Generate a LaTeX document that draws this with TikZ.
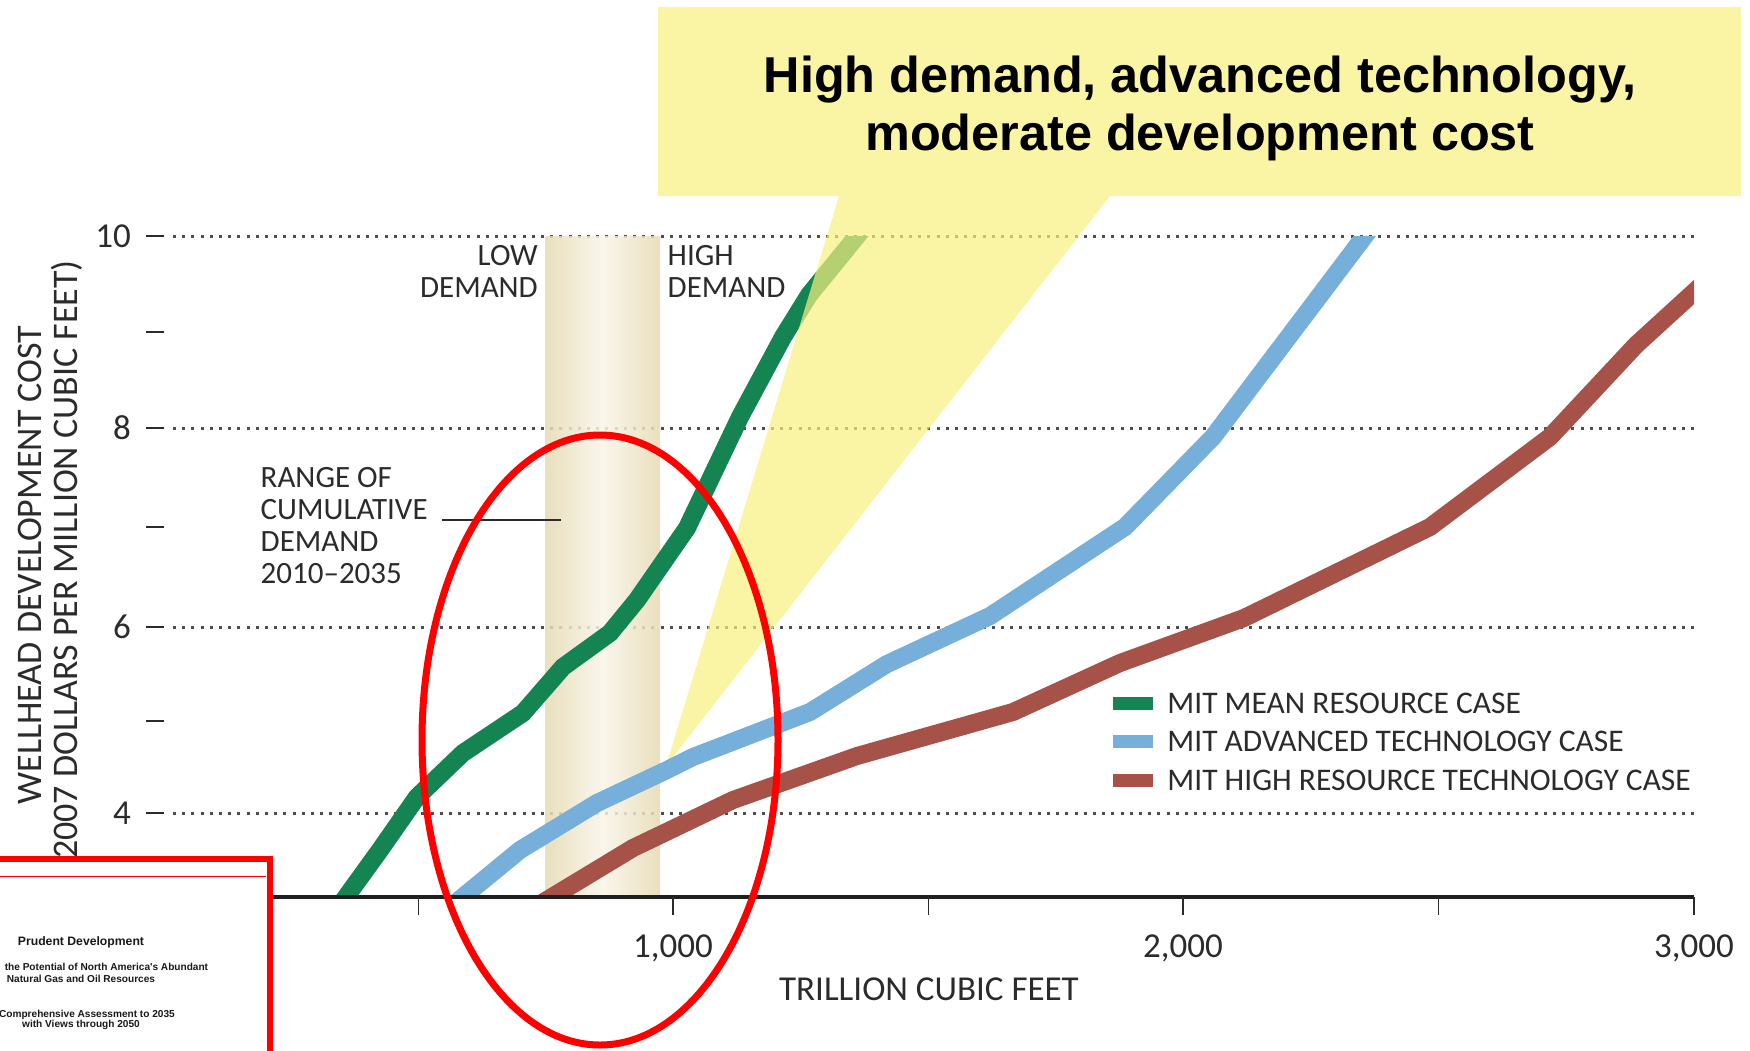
\documentclass[tikz,border=0pt]{standalone}
\usepackage{fontspec}
\setmainfont{Carlito}
\newfontfamily\calloutfont{Liberation Sans}
\usetikzlibrary{positioning}
\definecolor{MitGreen}{HTML}{148552}
\definecolor{MitBlue}{HTML}{76B0DA}
\definecolor{MitBrown}{HTML}{A65248}
\definecolor{GridGray}{HTML}{4D4D4D}
\definecolor{InkGray}{HTML}{2B2B2B}
\definecolor{BarEdge}{HTML}{E6DAB3}
\definecolor{BarMid}{HTML}{F8F4E8}
\definecolor{CallYellow}{RGB}{248,241,126}
\definecolor{MarkRed}{HTML}{FF0000}

\begin{document}
\begin{tikzpicture}[x=1pt,y=-1pt,
  annot/.style={font=\fontsize{31}{32}\selectfont,text=InkGray,inner sep=0pt},
  ticklbl/.style={font=\fontsize{35}{38}\selectfont,text=InkGray,inner sep=0pt},
  axtitle/.style={font=\fontsize{35}{36}\selectfont,text=InkGray,inner sep=0pt},
  legtext/.style={font=\fontsize{31.5}{34}\selectfont,text=InkGray,inner sep=0pt},
  swatch/.style={minimum width=40pt,minimum height=13pt,inner sep=0pt},
  gridline/.style={GridGray,line width=3pt,dash pattern=on 3pt off 6.2pt},
  tickmark/.style={InkGray,line width=1.5pt},
  curve/.style={line width=18pt},
  callout/.style={font={\calloutfont\bfseries\fontsize{50.4}{58}\selectfont},align=center,inner sep=0pt},
  booktext/.style={font={\calloutfont\bfseries\fontsize{10.1}{12}\selectfont},text=black!90,inner sep=0pt}]
  \useasboundingbox (0,0) rectangle (1750,1050);
  % grid and demand band
  \foreach \yy in {236,428,627,813} \draw[gridline] (173,\yy) -- (1694,\yy);
  \shade[left color=BarEdge,right color=BarEdge,middle color=BarMid,opacity=0.85] (545.7,236) rectangle (660,897);
  \foreach \yy in {236,332,428,527,627,721,813} \draw[tickmark] (146,\yy) -- (164,\yy);
  \foreach \yy/\val in {236/10,428/8,627/6,813/4} \node[ticklbl,anchor=east] (ylab\val) at (131,\yy) {\val};
  % cost curves
  \begin{scope}
    \clip (162,236) rectangle (1694,897);
    \draw[curve,MitGreen] (336.6,910) -- (380,850) -- (417,797) -- (463,753) -- (523,713) -- (563,667) -- (610,633) -- (637,600) -- (687,528) -- (740,417) -- (783,337) -- (809,295) -- (866,225);
  \end{scope}
  \fill[CallYellow,fill opacity=0.7] (658,7) -- (1741,7) -- (1741,196) -- (1110,196) -- (666,766) -- (839,196) -- (658,196) -- cycle;
  \node[callout,anchor=north] (callout) at (1200,56) {High demand, advanced technology,\\moderate development cost};
  \begin{scope}
    \clip (162,236) rectangle (1694,897);
    \draw[curve,MitBlue] (447,910) -- (520,850) -- (597,803) -- (667,770) -- (693,757) -- (810,712) -- (887,664) -- (990,616) -- (1125,527) -- (1213,437) -- (1373,225);
    \draw[curve,MitBrown] (530.5,910) -- (633,848) -- (733,800) -- (857,756) -- (1013,712) -- (1120,663) -- (1244,618) -- (1430,527) -- (1550,437) -- (1636,345) -- (1705,282);
  \end{scope}
  % x axis
  \draw[black!88,line width=4.5pt] (162,897) -- (1694,897);
  \foreach \xx in {418.5,673,928.5,1183,1438.5,1694} \draw[tickmark] (\xx,897) -- (\xx,915);
  \node[ticklbl,anchor=base] (xlab1) at (673,957.5) {1,000};
  \node[ticklbl,anchor=base] (xlab2) at (1183,957.5) {2,000};
  \node[ticklbl,anchor=base] (xlab3) at (1694,957.5) {3,000};
  \node[axtitle,anchor=base] (xtitle) at (929,1000) {TRILLION CUBIC FEET};
  \node[axtitle,font=\fontsize{36}{36}\selectfont,rotate=90,align=center] (ytitle) at (50.5,565) {WELLHEAD DEVELOPMENT COST\\(2007 DOLLARS PER MILLION CUBIC FEET)};
  % legend
  \node[swatch,fill=MitGreen] (swmean) at (1133,703) {};
  \node[swatch,fill=MitBlue] (swadv) at (1133,741) {};
  \node[swatch,fill=MitBrown] (swhigh) at (1133,780) {};
  \node[legtext,right=14pt of swmean] (legmean) {MIT MEAN RESOURCE CASE};
  \node[legtext,right=14pt of swadv] (legadv) {MIT ADVANCED TECHNOLOGY CASE};
  \node[legtext,right=14pt of swhigh] (leghigh) {MIT HIGH RESOURCE TECHNOLOGY CASE};
  % demand notes
  \node[annot,anchor=north east,align=right] (lowlbl) at (538,245) {LOW\\DEMAND};
  \node[annot,anchor=north west,align=left] (highlbl) at (667.5,245) {HIGH\\DEMAND};
  \node[annot,anchor=north west,align=left] (rangelbl) at (260.5,467) {RANGE OF\\CUMULATIVE\\DEMAND\\2010–2035};
  \coordinate (leadL) at (442,520);
  \coordinate (leadR) at (561,520);
  \draw[InkGray,line width=1.5pt] (leadL) -- (leadR);
  % red marks
  \draw[MarkRed,line width=7pt] (600,740) ellipse [x radius=178,y radius=305];
  \draw[MarkRed,line width=6pt,fill=white] (-20,858.5) rectangle (269.7,1080);
  \draw[MarkRed,line width=1.5pt] (-20,876.7) -- (265.7,876.7);
  \node[booktext,font={\calloutfont\bfseries\fontsize{12.2}{14}\selectfont},anchor=base] (booktitle) at (81,945) {Prudent Development};
  \node[booktext,anchor=base east] (booksub) at (208.3,970) {the Potential of North America's Abundant};
  \node[booktext,anchor=base] (booksubb) at (81,982) {Natural Gas and Oil Resources};
  \node[booktext,anchor=base east] (bookscope) at (175,1017.6) {Comprehensive Assessment to 2035};
  \node[booktext,anchor=base] (bookscopeb) at (81,1027.6) {with Views through 2050};
\end{tikzpicture}
\end{document}
